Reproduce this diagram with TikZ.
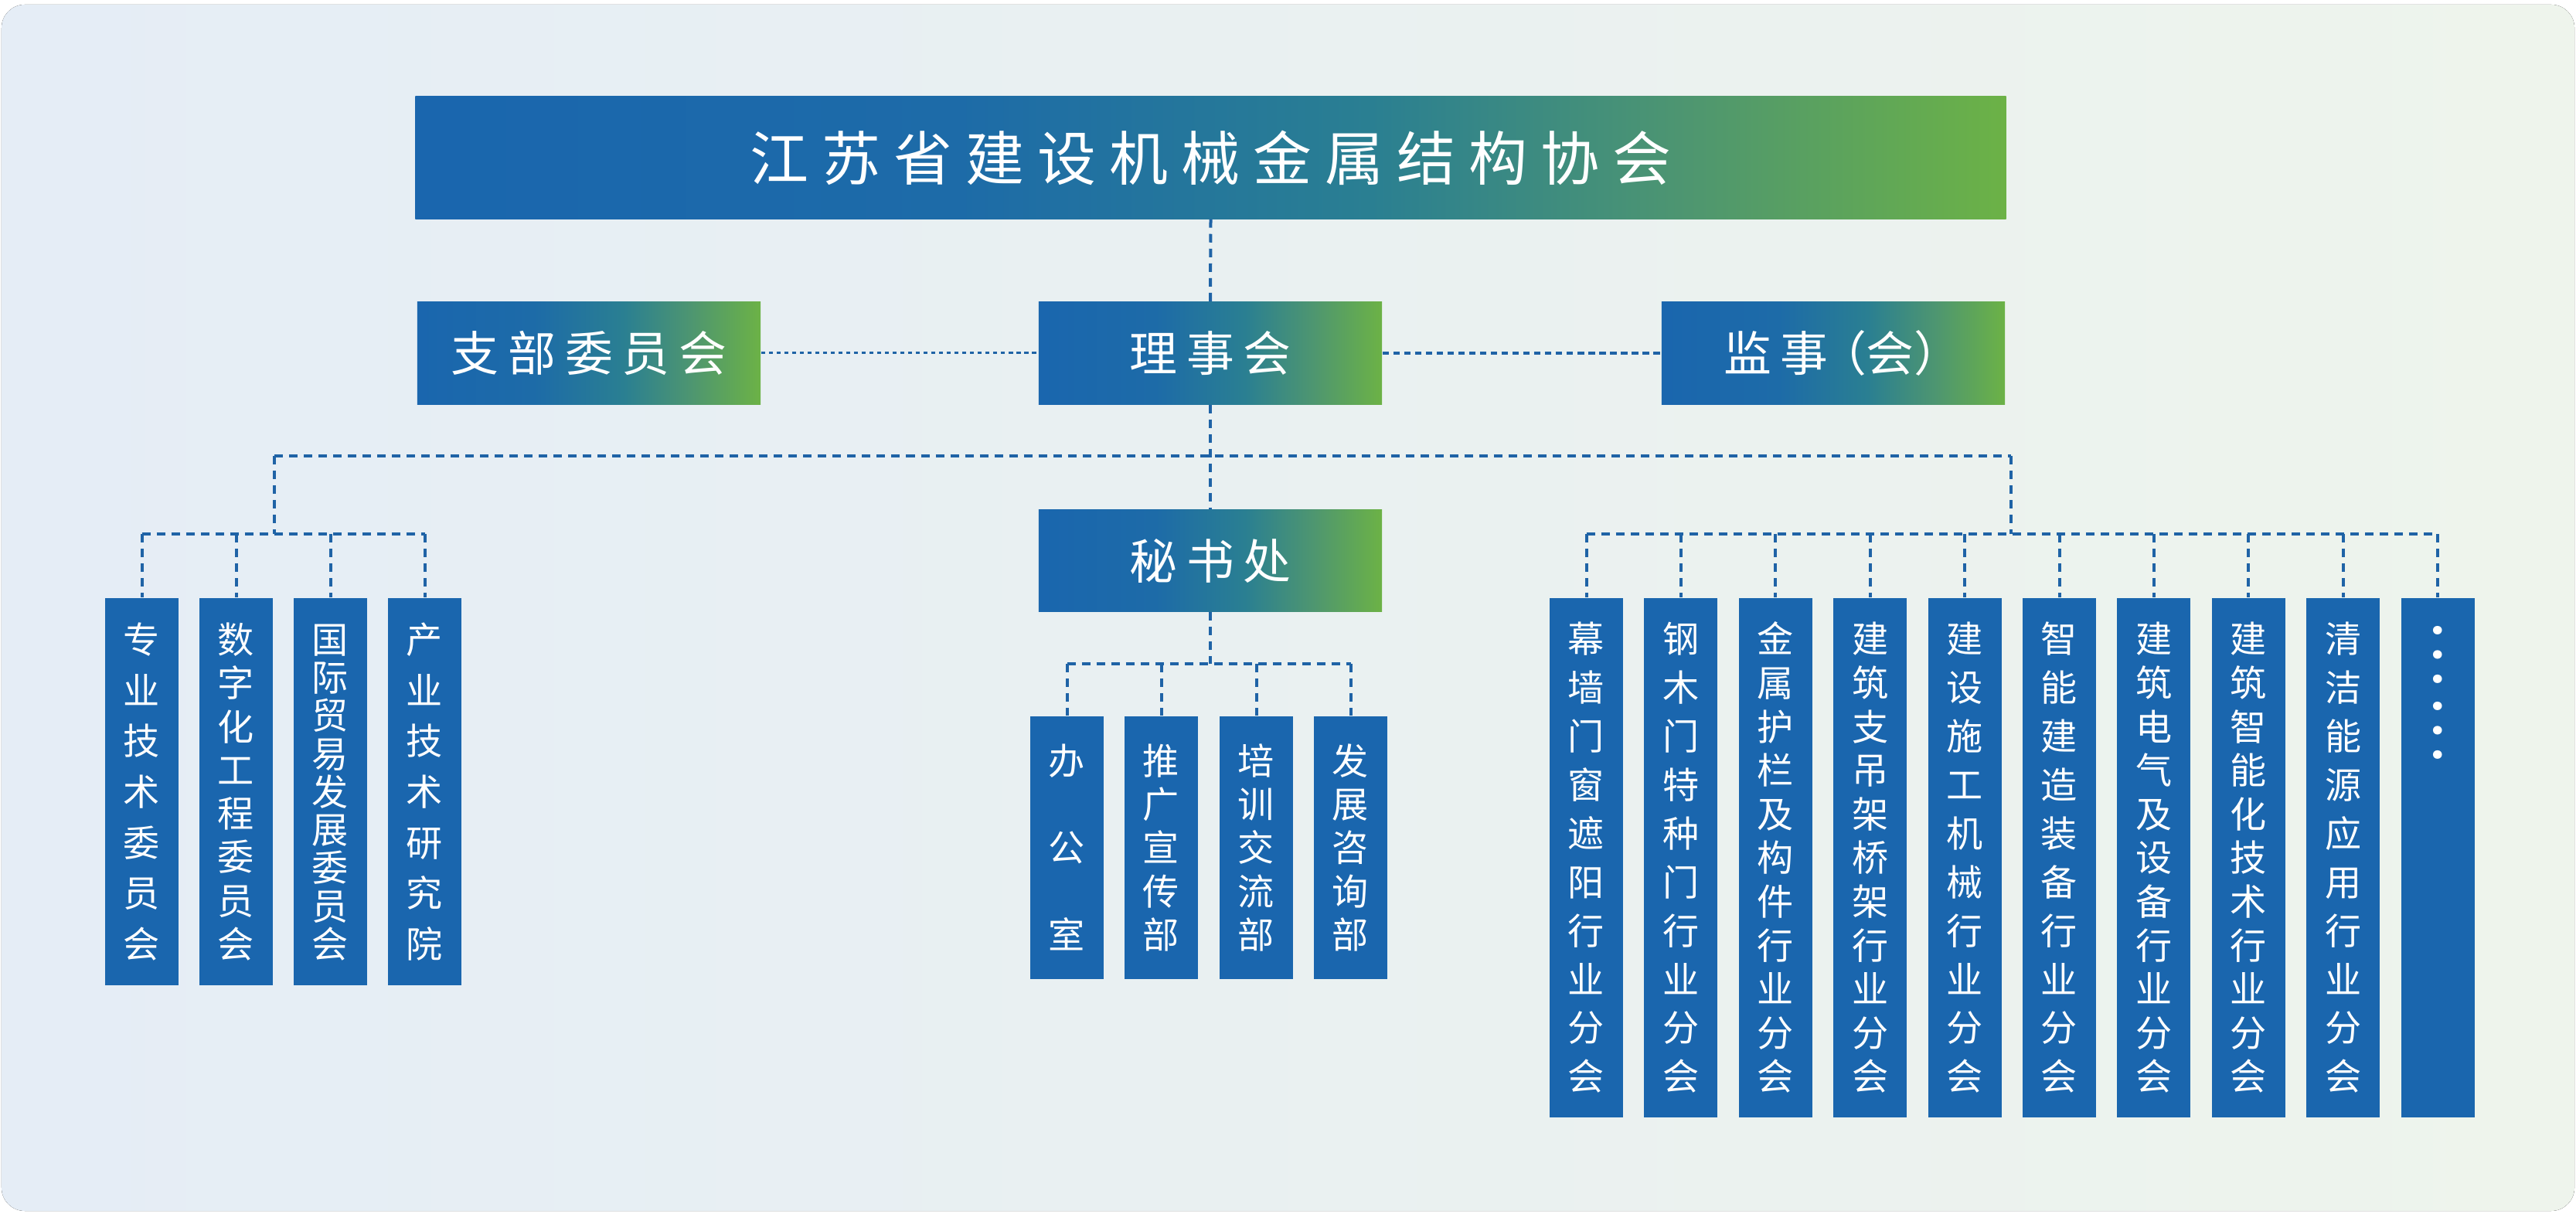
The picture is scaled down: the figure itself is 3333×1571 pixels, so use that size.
\documentclass[tikz,border=0pt]{standalone}
\usepackage{fontspec}
\newfontfamily\cjk{Noto Sans CJK SC}
\definecolor{cB}{RGB}{26,102,174}
\definecolor{cB2}{RGB}{29,107,168}
\definecolor{cT}{RGB}{42,127,146}
\definecolor{cT2}{RGB}{78,150,112}
\definecolor{cG}{RGB}{108,178,70}
\definecolor{bgL}{RGB}{229,237,246}
\definecolor{bgR}{RGB}{238,244,236}
\definecolor{lineC}{RGB}{31,99,166}
\pgfdeclarehorizontalshading{boxgrad}{100bp}{color(0bp)=(cB); color(25bp)=(cB); color(42bp)=(cB2); color(55bp)=(cT); color(65bp)=(cT2); color(75bp)=(cG); color(100bp)=(cG)}
\makeatletter
% horizontally spread characters
\newcommand\hspread[2]{\hs@{#1}#2\@nil}
\def\hs@#1#2#3\@nil{#2\ifx\relax#3\relax\else\hspace{#1}\hs@{#1}#3\@nil\fi}
% vertical text, evenly distributed over a given height
\newcommand\vtext[2]{\vbox to #1{\offinterlineskip\vc@#2\@nil}}
\def\vc@#1#2\@nil{\hbox to 1em{\hss\vrule height .88em depth .12em width 0pt\relax #1\hss}\ifx\relax#2\relax\else\vfill\vc@#2\@nil\fi}
\makeatother
\tikzset{
  gbox/.style={shade, shading=boxgrad, minimum width=4.44cm, minimum height=1.32cm, inner sep=0pt, text=white, font=\fontsize{17.6pt}{18pt}\cjk},
  titlebox/.style={shade, shading=boxgrad, minimum width=20.57cm, minimum height=1.58cm, inner sep=0pt, text=white, font=\fontsize{21.6pt}{22pt}\cjk},
  colbox/.style={fill=cB, minimum width=0.95cm, inner sep=0pt, text=white, font=\fontsize{13.4pt}{13.4pt}\cjk},
  lcol/.style={colbox, minimum height=5.01cm},
  ccol/.style={colbox, minimum height=3.40cm},
  rcol/.style={colbox, minimum height=6.72cm},
  bus/.style={draw=lineC, line width=0.04cm, dash pattern=on 0.11cm off 0.08cm},
  dotl/.style={draw=lineC, line width=0.03cm, dash pattern=on 0.055cm off 0.045cm},
  dashr/.style={draw=lineC, line width=0.045cm, dash pattern=on 0.085cm off 0.055cm},
}
\begin{document}
\begin{tikzpicture}[x=0.01cm, y=-0.01cm]
\useasboundingbox (0,0) rectangle (3333,1571);
\fill[rounded corners=0.3cm, left color=bgL, right color=bgR] (2,6) rectangle (3331,1567);

% top levels
\node[titlebox] (title) at (1566.5,204) {\hspread{0.17cm}{江苏省建设机械金属结构协会}};
\node[gbox] (zhibu) at (762,457) {\hspread{0.12cm}{支部委员会}};
\node[gbox] (lishi) at (1566,457) {\hspread{0.12cm}{理事会}};
\node[gbox] (jianshi) at (2372,457) {监\hspace{0.12cm}事\hspace{0.12cm}\kern-0.4em（会）\kern-0.4em};
\node[gbox] (mishu) at (1566,725.5) {\hspread{0.12cm}{秘书处}};

% left group
\node[lcol] (L1) at (183.5,1024.5) {\vtext{4.35cm}{专业技术委员会}};
\node[lcol] (L2) at (305.5,1024.5) {\vtext{4.35cm}{数字化工程委员会}};
\node[lcol] (L3) at (427.5,1024.5) {\vtext{4.35cm}{国际贸易发展委员会}};
\node[lcol] (L4) at (549.5,1024.5) {\vtext{4.35cm}{产业技术研究院}};

% centre group
\node[ccol] (C1) at (1380.5,1097) {\vtext{2.67cm}{办公室}};
\node[ccol] (C2) at (1502.5,1097) {\vtext{2.67cm}{推广宣传部}};
\node[ccol] (C3) at (1625.5,1097) {\vtext{2.67cm}{培训交流部}};
\node[ccol] (C4) at (1747.5,1097) {\vtext{2.67cm}{发展咨询部}};

% right group
\node[rcol] (R1) at (2052.5,1110) {\vtext{6.07cm}{幕墙门窗遮阳行业分会}};
\node[rcol] (R2) at (2174.9,1110) {\vtext{6.07cm}{钢木门特种门行业分会}};
\node[rcol] (R3) at (2297.3,1110) {\vtext{6.07cm}{金属护栏及构件行业分会}};
\node[rcol] (R4) at (2419.7,1110) {\vtext{6.07cm}{建筑支吊架桥架行业分会}};
\node[rcol] (R5) at (2542.1,1110) {\vtext{6.07cm}{建设施工机械行业分会}};
\node[rcol] (R6) at (2664.5,1110) {\vtext{6.07cm}{智能建造装备行业分会}};
\node[rcol] (R7) at (2786.9,1110) {\vtext{6.07cm}{建筑电气及设备行业分会}};
\node[rcol] (R8) at (2909.3,1110) {\vtext{6.07cm}{建筑智能化技术行业分会}};
\node[rcol] (R9) at (3031.7,1110) {\vtext{6.07cm}{清洁能源应用行业分会}};
\node[rcol] (R10) at (3154.1,1110) {};
\node[rotate=-90, text=white, inner sep=0pt, font=\fontsize{23.9pt}{24pt}\cjk] (dots) at (3154.1,895.5) {…\kern0.09cm…};

% connectors
\coordinate (jL) at (355,590);
\coordinate (jR) at (2602,590);
\coordinate (lb) at (355,691);
\coordinate (rb) at (2602,691);
\coordinate (cb) at (1566,859);

\draw[bus] (title.south) -- (lishi.north);
\draw[dotl] (zhibu.east) -- (lishi.west);
\draw[dashr] (lishi.east) -- (jianshi.west);
\draw[bus] (lishi.south) -- (mishu.north);
\draw[bus] (jL) -- (jR);
\draw[bus] (jL) -- (lb);
\draw[bus] (jR) -- (rb);
\draw[bus] (mishu.south) -- (cb);

\draw[bus] (L1.north |- lb) -- (L4.north |- lb);
\foreach \i in {1,...,4} \draw[bus] (L\i.north |- lb) -- (L\i.north);
\draw[bus] (C1.north |- cb) -- (C4.north |- cb);
\foreach \i in {1,...,4} \draw[bus] (C\i.north |- cb) -- (C\i.north);
\draw[bus] (R1.north |- rb) -- (R10.north |- rb);
\foreach \i in {1,...,10} \draw[bus] (R\i.north |- rb) -- (R\i.north);
\end{tikzpicture}
\end{document}
